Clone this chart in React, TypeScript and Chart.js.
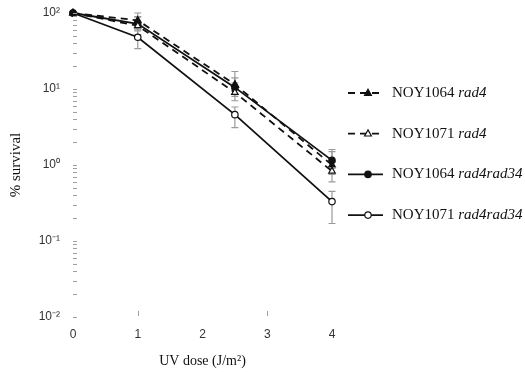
import React, { useEffect, useRef } from 'react';
import { Chart, registerables } from 'chart.js';

Chart.register(...registerables);

// ---- data ----
const doses = [0, 1, 2.5, 4];
const strainNames = ['NOY1064', 'NOY1071', 'NOY1064', 'NOY1071'];
const genotypes = ['rad4', 'rad4', 'rad4rad34', 'rad4rad34'];

const noy1064Rad4 = [100, 80, 11.5, 1.0];
const noy1064Rad4Low = [null, 62, 8.5, 0.75];
const noy1064Rad4High = [null, 100, 17, 1.5];

const noy1071Rad4 = [100, 68, 9, 0.83];
const noy1071Rad4Low = [null, 52, 7, 0.6];
const noy1071Rad4High = [null, 88, 12, 1.1];

const noy1064Rad4Rad34 = [100, 72, 10.5, 1.15];
const noy1064Rad4Rad34Low = [null, 58, 8, 0.9];
const noy1064Rad4Rad34High = [null, 90, 14, 1.6];

const noy1071Rad4Rad34 = [100, 48, 4.6, 0.33];
const noy1071Rad4Rad34Low = [null, 34, 3.1, 0.17];
const noy1071Rad4Rad34High = [null, 60, 5.8, 0.45];

const yDecades = [0.01, 0.1, 1, 10, 100];
const yTickLabels = ['10\u207B\u00B2', '10\u207B\u00B9', '10\u2070', '10\u00B9', '10\u00B2'];
const xTickValues = [0, 1, 2, 3, 4];
const xTickLabels = ['0', '1', '2', '3', '4'];
const xTickMarks = [1, 3];
const xTitle = 'UV dose (J/m\u00B2)';
const yTitle = '% survival';

const seriesValues = [noy1064Rad4, noy1071Rad4, noy1064Rad4Rad34, noy1071Rad4Rad34];
const seriesLow = [noy1064Rad4Low, noy1071Rad4Low, noy1064Rad4Rad34Low, noy1071Rad4Rad34Low];
const seriesHigh = [noy1064Rad4High, noy1071Rad4High, noy1064Rad4Rad34High, noy1071Rad4Rad34High];
const seriesMarker = ['triangle', 'triangle', 'circle', 'circle'];
const seriesFilled = [true, false, true, false];
const seriesDashed = [true, true, false, false];

const errorBarPlugin = {
  id: 'errorBars',
  beforeDatasetsDraw(chart: any) {
    const { ctx } = chart;
    const x = chart.scales.x;
    const y = chart.scales.y;
    ctx.save();
    ctx.strokeStyle = '#9a9a9a';
    ctx.lineWidth = 1.2;
    seriesValues.forEach((_, si) => {
      doses.forEach((d, i) => {
        const lo = seriesLow[si][i];
        const hi = seriesHigh[si][i];
        if (lo == null || hi == null) return;
        const px = x.getPixelForValue(d);
        const py1 = y.getPixelForValue(lo);
        const py2 = y.getPixelForValue(hi);
        ctx.beginPath();
        ctx.moveTo(px, py1);
        ctx.lineTo(px, py2);
        ctx.moveTo(px - 3.5, py1);
        ctx.lineTo(px + 3.5, py1);
        ctx.moveTo(px - 3.5, py2);
        ctx.lineTo(px + 3.5, py2);
        ctx.stroke();
      });
    });
    ctx.restore();
  },
};

const axisDecorPlugin = {
  id: 'axisDecor',
  afterDraw(chart: any) {
    const { ctx, chartArea } = chart;
    const x = chart.scales.x;
    const y = chart.scales.y;
    ctx.save();
    ctx.strokeStyle = '#a0a0a0';
    ctx.lineWidth = 1;
    for (let k = 0; k < yDecades.length; k++) {
      const base = yDecades[k];
      const mults = k === yDecades.length - 1 ? [1] : [1, 2, 3, 4, 5, 6, 7, 8, 9];
      mults.forEach((m) => {
        const py = Math.round(y.getPixelForValue(base * m)) + 0.5;
        ctx.beginPath();
        ctx.moveTo(chartArea.left, py);
        ctx.lineTo(chartArea.left + 4, py);
        ctx.stroke();
      });
    }
    xTickMarks.forEach((v) => {
      const px = Math.round(x.getPixelForValue(v)) + 0.5;
      ctx.beginPath();
      ctx.moveTo(px, chartArea.bottom - 6);
      ctx.lineTo(px, chartArea.bottom - 1);
      ctx.stroke();
    });
    ctx.restore();
  },
};

const legendPlugin = {
  id: 'customLegend',
  afterDraw(chart: any) {
    const { ctx, chartArea } = chart;
    ctx.save();
    const x0 = chartArea.right + 16;
    const x1 = x0 + 35;
    const mx = x0 + 20;
    const tx = x1 + 9;
    seriesValues.forEach((_, i) => {
      const yy = chartArea.top + 80 + i * 40.7;
      ctx.strokeStyle = '#111';
      ctx.lineWidth = 1.8;
      ctx.setLineDash(seriesDashed[i] ? [7, 5] : []);
      ctx.beginPath();
      ctx.moveTo(x0, yy);
      ctx.lineTo(x1, yy);
      ctx.stroke();
      ctx.setLineDash([]);
      ctx.lineWidth = 1.2;
      ctx.fillStyle = seriesFilled[i] ? '#111' : '#fff';
      ctx.beginPath();
      if (seriesMarker[i] === 'circle') {
        ctx.arc(mx, yy, 3.2, 0, Math.PI * 2);
      } else {
        const r = 3.8;
        ctx.moveTo(mx, yy - r);
        ctx.lineTo(mx + r * 0.9, yy + r * 0.6);
        ctx.lineTo(mx - r * 0.9, yy + r * 0.6);
        ctx.closePath();
      }
      ctx.fill();
      ctx.stroke();
      ctx.fillStyle = '#111';
      ctx.textBaseline = 'middle';
      ctx.font = '15px "Liberation Serif", "Times New Roman", serif';
      const name = strainNames[i] + ' ';
      ctx.fillText(name, tx, yy);
      const w = ctx.measureText(name).width;
      ctx.font = 'italic 15px "Liberation Serif", "Times New Roman", serif';
      ctx.fillText(genotypes[i], tx + w, yy);
    });
    ctx.restore();
  },
};

export default function App() {
  const ref = useRef<HTMLCanvasElement | null>(null);

  useEffect(() => {
    if (!ref.current) return;
    const datasets = seriesValues.map((vals, i) => ({
      label: strainNames[i] + ' ' + genotypes[i],
      data: doses.map((d, j) => ({ x: d, y: vals[j] })),
      borderColor: '#111',
      borderWidth: 1.8,
      borderDash: seriesDashed[i] ? [7, 5] : [],
      pointStyle: seriesMarker[i],
      pointRadius: seriesMarker[i] === 'circle' ? 3.2 : 3.8,
      pointBorderWidth: 1.2,
      pointBorderColor: '#111',
      pointBackgroundColor: seriesFilled[i] ? '#111' : '#fff',
      backgroundColor: seriesFilled[i] ? '#111' : '#fff',
      fill: false,
      tension: 0,
      clip: false,
    }));

    const chart = new Chart(ref.current, {
      type: 'line',
      data: { datasets },
      options: {
        animation: false,
        responsive: false,
        layout: { padding: { top: 13, right: 193, left: 0, bottom: 0 } },
        plugins: {
          legend: { display: false },
          tooltip: { enabled: false },
        },
        scales: {
          x: {
            type: 'linear',
            min: 0,
            max: 4,
            border: { display: false },
            grid: { display: false, drawTicks: false },
            afterBuildTicks: (s: any) => {
              s.ticks = xTickValues.map((v) => ({ value: v }));
            },
            afterFit: (s: any) => {
              s.height = 55;
              s.paddingLeft = 0;
              s.paddingRight = 0;
            },
            ticks: {
              padding: 10,
              color: '#333',
              font: { family: '"Liberation Sans", Arial, sans-serif', size: 12 },
              callback: (v: any) => {
                const idx = xTickValues.indexOf(Number(v));
                return idx >= 0 ? xTickLabels[idx] : '';
              },
            },
            title: {
              display: true,
              text: xTitle,
              color: '#111',
              padding: { top: 0, bottom: 2 },
              font: { family: '"Liberation Serif", "Times New Roman", serif', size: 14 },
            },
          },
          y: {
            type: 'logarithmic',
            min: 0.01,
            max: 100,
            border: { display: false },
            grid: { display: false, drawTicks: false },
            afterBuildTicks: (s: any) => {
              s.ticks = yDecades.map((v) => ({ value: v }));
            },
            afterFit: (s: any) => {
              s.width = 73;
              s.paddingTop = 0;
              s.paddingBottom = 0;
            },
            ticks: {
              padding: 13,
              color: '#333',
              font: { family: '"Liberation Sans", Arial, sans-serif', size: 12 },
              callback: (v: any) => {
                const idx = yDecades.findIndex((d) => Math.abs(d - Number(v)) < d * 1e-6);
                return idx >= 0 ? yTickLabels[idx] : '';
              },
            },
            title: {
              display: true,
              text: yTitle,
              color: '#111',
              padding: { top: 7, bottom: 0 },
              font: { family: '"Liberation Serif", "Times New Roman", serif', size: 15 },
            },
          },
        },
      },
      plugins: [errorBarPlugin, axisDecorPlugin, legendPlugin],
    });
    return () => chart.destroy();
  }, []);

  return (
    <canvas
      ref={ref}
      width={525}
      height={372}
      style={{ position: 'absolute', left: 0, top: 0, width: 525, height: 372, background: '#fff' }}
    />
  );
}
